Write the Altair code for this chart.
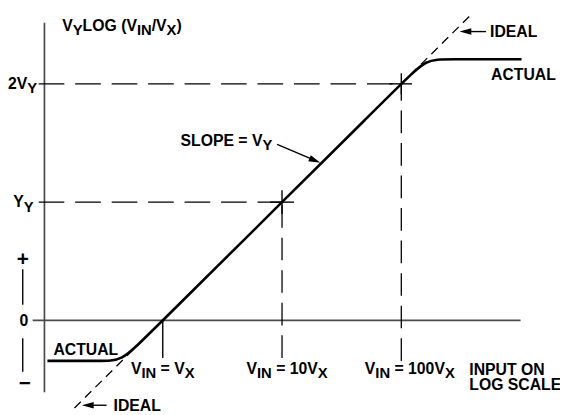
import altair as alt
import pandas as pd

# ---------------- data (x: decades of V_IN/V_X, y: output in units of V_Y) ----------------
W, H = 560, 407
X_DOMAIN = [-1.2975, 3.3306]
Y_DOMAIN = [-0.775, 2.6167]

# actual transfer curve (corner points, rounded by basis interpolation)
actual_x = [-0.967, -0.52, -0.342, -0.16, 2.03, 2.208, 2.38, 3.008]
actual_y = [-0.342, -0.342, -0.342, -0.16, 2.03, 2.208, 2.208, 2.208]

# ideal log law
ideal_x = [-0.74, 2.60]
ideal_y = [-0.74, 2.60]

# axes (x0, y0, x1, y1)
axis_segs = [(-0.992, 2.517, -0.992, -0.608), (-1.091, 0.0, 3.0, 0.0)]
# long dashed reference lines
ref_h = [(-1.04, 1.0, 1.0, 1.0), (-1.04, 2.0, 2.0, 2.0)]
ref_v = [(1.0, -0.317, 1.0, 1.0), (2.0, -0.342, 2.0, 2.0)]
# thin solid: crosshairs, V_X tick, +/- bars, arrow shafts
thin_segs = [
    (0.90, 1.0, 1.10, 1.0), (1.0, 0.90, 1.0, 1.10),
    (1.90, 2.0, 2.09, 2.0), (2.0, 1.91, 2.0, 2.09),
    (0.0, 0.0, 0.0, -0.317),
    (-1.174, 0.433, -1.174, 0.133), (-1.174, -0.15, -1.174, -0.433),
    (2.711, 2.442, 2.554, 2.442),
    (-0.471, -0.717, -0.612, -0.717),
    (0.959, 1.4875, 1.261, 1.359),
]
# arrow heads: tip x, tip y, angle
arrow_x = [2.488, -0.678, 1.322]
arrow_y = [2.442, -0.717, 1.333]
arrow_a = [180, 180, 22.8]

# labels: runs of (text, kind), anchor x, anchor baseline y, align
# kind: 0 = main text, 1 = subscript, 2 = large sign
LABELS = [
    ([("V", 0), ("Y", 1), ("LOG (", 0), ("V", 0), ("IN", 1), ("/", 0), ("V", 0), ("X", 1), (")", 0)], -0.843, 2.45, "left"),
    ([("2V", 0), ("Y", 1)], -1.053, 1.958, "right"),
    ([("Y", 0), ("Y", 1)], -1.083, 0.958, "right"),
    ([("0", 0)], -1.165, -0.046, "center"),
    ([("+", 2)], -1.174, 0.458, "center"),
    ([("\u2212", 2)], -1.157, -0.592, "center"),
    ([("ACTUAL", 0)], -0.917, -0.292, "left"),
    ([("ACTUAL", 0)], 2.752, 2.033, "left"),
    ([("IDEAL", 0)], 2.744, 2.392, "left"),
    ([("IDEAL", 0)], -0.413, -0.767, "left"),
    ([("SLOPE = V", 0), ("Y", 1)], 0.149, 1.475, "left"),
    ([("V", 0), ("IN", 1), (" = V", 0), ("X", 1)], 0.0, -0.45, "center"),
    ([("V", 0), ("IN", 1), (" = 10V", 0), ("X", 1)], 0.702, -0.45, "left"),
    ([("V", 0), ("IN", 1), (" = 100V", 0), ("X", 1)], 1.694, -0.45, "left"),
    ([("INPUT ON", 0)], 2.570, -0.458, "left"),
    ([("LOG SCALE", 0)], 2.570, -0.592, "left"),
]

# ---------------- layout helpers ----------------
FS = {0: 16.0, 1: 15.0, 2: 21.0}
SUB_DROP = 4.5
PX_X = W / (X_DOMAIN[1] - X_DOMAIN[0])
PX_Y = H / (Y_DOMAIN[1] - Y_DOMAIN[0])
CW = {" ": 278, "(": 333, ")": 333, "/": 278, "=": 584, "+": 584, "\u2212": 584,
      "A": 722, "C": 722, "D": 722, "E": 667, "G": 778, "I": 278, "L": 611, "N": 722,
      "O": 778, "P": 667, "S": 667, "T": 611, "U": 722, "V": 667, "X": 667, "Y": 667}


def tw(s, fs):
    return sum(CW.get(c, 556) for c in s) / 1000.0 * fs


text_rows = []
for runs, ax, ay, align in LABELS:
    total = sum(tw(t, FS[k]) for t, k in runs)
    start = {"left": 0.0, "center": -total / 2, "right": -total}[align]
    pos = start
    for t, k in runs:
        fs = FS[k]
        lead = len(t) - len(t.lstrip(" "))
        off = pos + tw(" " * lead, fs)
        text_rows.append(dict(x=ax + off / PX_X,
                              y=ay - (SUB_DROP / PX_Y if k == 1 else 0.0),
                              t=t.strip(), fs=fs))
        pos += tw(t, fs)
text_df = pd.DataFrame(text_rows)


def seg_df(name, segs):
    rows = []
    for i, (x0, y0, x1, y1) in enumerate(segs):
        rows.append(dict(seg=f"{name}{i}", x=x0, y=y0, o=0))
        rows.append(dict(seg=f"{name}{i}", x=x1, y=y1, o=1))
    return pd.DataFrame(rows)


xs = alt.Scale(domain=X_DOMAIN, nice=False, zero=False)
ys = alt.Scale(domain=Y_DOMAIN, nice=False, zero=False)
X = alt.X("x:Q", scale=xs, axis=None)
Y = alt.Y("y:Q", scale=ys, axis=None)


def lines(df, **mk):
    return alt.Chart(df).mark_line(**mk).encode(x=X, y=Y, detail="seg:N", order="o:Q")


axes = lines(seg_df("a", axis_segs), color="#4a4a4a", strokeWidth=1.7)
refh = lines(seg_df("h", ref_h), color="black", strokeWidth=1.3, strokeDash=[26, 11])
refv = lines(seg_df("v", ref_v), color="black", strokeWidth=1.3, strokeDash=[23, 10])
ideal = lines(pd.DataFrame(dict(seg="i", x=ideal_x, y=ideal_y, o=[0, 1])),
              color="black", strokeWidth=1.3, strokeDash=[9, 6])
thin = lines(seg_df("t", thin_segs), color="black", strokeWidth=1.4)
actual = alt.Chart(pd.DataFrame(dict(x=actual_x, y=actual_y, o=range(len(actual_x))))).mark_line(
    interpolate="basis", color="black", strokeWidth=2.6, strokeJoin="round"
).encode(x=X, y=Y, order="o:Q")

heads = alt.Chart(pd.DataFrame(dict(x=arrow_x, y=arrow_y, a=arrow_a))).mark_point(
    shape="M0,0L-2,-0.55L-2,0.55Z", filled=True, size=144, color="black", opacity=1, strokeWidth=0
).encode(x=X, y=Y, angle=alt.Angle("a:Q", scale=None))

texts = alt.Chart(text_df).mark_text(
    align="left", baseline="alphabetic", font="Liberation Sans", fontWeight="bold", color="black"
).encode(x=X, y=Y, text="t:N", size=alt.Size("fs:Q", scale=None, legend=None))

chart = alt.layer(axes, refh, refv, ideal, thin, actual, heads, texts).properties(
    width=W, height=H, padding=0, autosize="none", background="white"
).configure_view(stroke=None)

chart.save("out.html", embed_options={"renderer": "svg", "actions": False})
